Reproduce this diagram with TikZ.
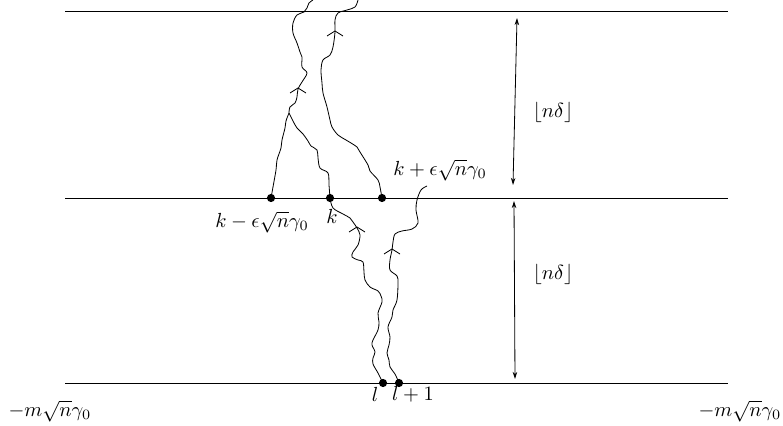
\documentclass[tikz,border=0pt]{standalone}
\usepackage{tikz}
\usetikzlibrary{arrows.meta}
\tikzset{
  dot/.style={circle, fill=black, inner sep=0pt, minimum size=4pt},
  walk/.style={smooth, tension=0.55},
  upmark/.pic={\draw (-8,5) -- (0,0) -- (8,5);},
  gap/.style={{Stealth[length=3.5pt,width=2.2pt]}-{Stealth[length=3.5pt,width=2.2pt]}}
}
\begin{document}
\begin{tikzpicture}[x=0.49pt, y=-0.49pt]
\useasboundingbox (0,0) rectangle (783,426);
% the three levels
\draw (65,11) -- (728,11);
\draw (65,198) -- (728,198);
\draw (65,383) -- (728,383);
% points on the levels
\node[dot] (km) at (271,198) {};
\node[dot] (k) at (330,198) {};
\node[dot] (kp) at (382,198) {};
\node[dot] (l) at (383,383) {};
\node[dot] (lp) at (399,383) {};
\coordinate (mg) at (289,113);
\coordinate (wend) at (427,186);
% upper paths
\draw plot[walk] coordinates {(km.center) (273,187) (276,170) (277,160) (281,148) (282,140)
    (285,128) (286,121) (289,113)};
\draw plot[walk] coordinates {(k.center) (329,185) (328,173) (320,168) (318,158) (317,150)
    (311,146) (308,141) (303,134) (297,128) (293,121) (289,113)};
\draw plot[walk] coordinates {(mg) (290,107) (295,103) (297,97) (298,89) (302,82) (307,73)
    (302,67) (302,57) (300,52) (297,43) (293,33) (293,23) (297,15) (304,12) (307,8)
    (309,3) (313,0)};
\draw plot[walk] coordinates {(kp.center) (380,187) (378,180) (370,171) (368,165) (360,152)
    (357,147) (346,140) (338,135) (332,127) (330,120) (327,107) (323,93) (322,83) (321,70)
    (323,60) (330,55) (333,47) (335,32) (335,20) (338,13) (347,10) (355,7) (358,0)};
% lower paths
\draw plot[walk] coordinates {(k.center) (333,208) (343,214) (350,218) (353,222) (357,228)
    (360,235) (358,245) (353,252) (352,257) (358,260) (363,262) (364,272) (365,280)
    (370,287) (378,291) (381,296) (382,302) (378,313) (379,322) (378,330) (373,340)
    (372,345) (375,352) (373,358) (373,364) (378,373) (l.center)};
\draw plot[walk] coordinates {(wend) (421,190) (417,200) (416,210) (418,223)
    (412,229) (402,231) (395,234) (393,242) (392,250) (390,260) (390,270) (397,276)
    (398,283) (397,300) (393,310) (392,317) (388,327) (390,337) (389,345) (387,353)
    (389,360) (390,367) (395,374) (lp.center)};
% direction marks
\pic at (298,88) {upmark};
\pic at (335,31) {upmark};
\pic at (357,227) {upmark};
\pic at (392,249) {upmark};
% heights
\coordinate (t1) at (517,18);
\coordinate (b1) at (513,185);
\coordinate (t2) at (514,201);
\coordinate (b2) at (515,379);
\draw[gap] (t1) -- (b1);
\draw[gap] (t2) -- (b2);
\node (h1) at (553,112) {$\lfloor n\delta\rfloor$};
\node (h2) at (553,274) {$\lfloor n\delta\rfloor$};
% labels
\node (lkm) at (262,222) {$k-\epsilon\sqrt{n}\gamma_0$};
\node (lk) at (332,216) {$k$};
\node (lkp) at (440,170) {$k+\epsilon\sqrt{n}\gamma_0$};
\node (ll) at (375,394) {$l$};
\node (llp) at (413,394) {$l+1$};
\node (left) at (50,411) {$-m\sqrt{n}\gamma_0$};
\node (right) at (740,411) {$-m\sqrt{n}\gamma_0$};
\end{tikzpicture}
\end{document}
